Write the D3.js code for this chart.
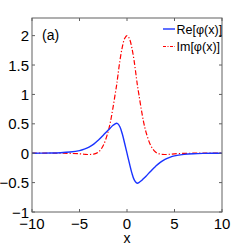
<!DOCTYPE html>
<html>
<head>
<meta charset="utf-8">
<script src="https://cdn.jsdelivr.net/npm/d3@7"></script>
<style>
  body { margin: 0; background: #fff; }
  text { font-family: Arial, "Liberation Sans", sans-serif; }
</style>
</head>
<body>
<svg width="245" height="245"></svg>
<script>
// values
var xs = [-10, -8, -7, -6, -5, -4.5, -4, -3.5, -3, -2.5, -2, -1.75, -1.5, -1.25, -1.1, -1, -0.75, -0.5, -0.25, 0,
          0.25, 0.5, 0.75, 1, 1.1, 1.25, 1.5, 1.75, 2, 2.5, 3, 3.5, 4, 4.5, 5, 6, 7, 8, 10];
var reVals = [0, 0.003, 0.008, 0.02, 0.045, 0.07, 0.105, 0.155, 0.225, 0.305, 0.39, 0.43, 0.47, 0.5, 0.51, 0.505, 0.45, 0.33, 0.17, 0,
              -0.17, -0.33, -0.45, -0.505, -0.51, -0.5, -0.47, -0.43, -0.39, -0.305, -0.225, -0.155, -0.105, -0.07, -0.045, -0.02, -0.008, -0.003, 0];
var imVals = [0, 0, 0, -0.003, -0.01, -0.018, -0.022, -0.015, 0.02, 0.13, 0.36, 0.53, 0.75, 1.0, 1.15, 1.27, 1.57, 1.8, 1.95, 2.0,
              1.95, 1.8, 1.57, 1.27, 1.15, 1.0, 0.75, 0.53, 0.36, 0.13, 0.02, -0.015, -0.022, -0.018, -0.01, -0.003, 0, 0, 0];
var xTicks = [-10, -5, 0, 5, 10];
var yTicks = [-1, -0.5, 0, 0.5, 1, 1.5, 2];
var seriesNames = ["Re[\u03c6(x)]", "Im[\u03c6(x)]"];

var svg = d3.select("svg");
var pLeft = 32, pRight = 222, pTop = 18, pBottom = 212;

var x = d3.scaleLinear().domain([-10, 10]).range([pLeft, pRight]);
var y = d3.scaleLinear().domain([-1, 2.3]).range([pBottom, pTop]);

var fmt = function (d) { return String(d).replace("-", "\u2212"); };
var axisColor = "#606060";

// curves
var line = d3.line()
    .x(function (d) { return x(d[0]); })
    .y(function (d) { return y(d[1]); })
    .curve(d3.curveCatmullRom);

svg.append("path")
    .attr("d", line(xs.map(function (v, i) { return [v, imVals[i]]; })))
    .attr("fill", "none")
    .attr("stroke", "#ff0000")
    .attr("stroke-width", 1.2)
    .attr("stroke-dasharray", "5,2,1.2,2");

svg.append("path")
    .attr("d", line(xs.map(function (v, i) { return [v, reVals[i]]; })))
    .attr("fill", "none")
    .attr("stroke", "#1a33ff")
    .attr("stroke-width", 1.4);

// box
svg.append("rect")
    .attr("x", pLeft).attr("y", pTop)
    .attr("width", pRight - pLeft).attr("height", pBottom - pTop)
    .attr("fill", "none")
    .attr("stroke", axisColor)
    .attr("stroke-width", 1);

// ticks inside, on all four sides
xTicks.forEach(function (t) {
    svg.append("line").attr("x1", x(t)).attr("x2", x(t)).attr("y1", pBottom).attr("y2", pBottom - 3).attr("stroke", axisColor);
    svg.append("line").attr("x1", x(t)).attr("x2", x(t)).attr("y1", pTop).attr("y2", pTop + 3).attr("stroke", axisColor);
    svg.append("text")
        .attr("x", x(t)).attr("y", 228.5)
        .attr("text-anchor", "middle")
        .style("font-size", "15px")
        .text(fmt(t));
});
yTicks.forEach(function (t) {
    svg.append("line").attr("x1", pLeft).attr("x2", pLeft + 3).attr("y1", y(t)).attr("y2", y(t)).attr("stroke", axisColor);
    svg.append("line").attr("x1", pRight).attr("x2", pRight - 3).attr("y1", y(t)).attr("y2", y(t)).attr("stroke", axisColor);
    svg.append("text")
        .attr("x", 29).attr("y", y(t) + 5.5)
        .attr("text-anchor", "end")
        .style("font-size", "15px")
        .text(fmt(t));
});

// x label
svg.append("text")
    .attr("x", x(0)).attr("y", 243)
    .attr("text-anchor", "middle")
    .style("font-size", "14px")
    .text("x");

// panel label
svg.append("text")
    .attr("x", 42).attr("y", 40)
    .style("font-size", "14px")
    .text("(a)");

// legend
var legendStyles = [
    { color: "#1a33ff", dash: null, w: 1.4 },
    { color: "#ff0000", dash: "3,1.5,1,1.5", w: 1.2 }
];
seriesNames.forEach(function (name, i) {
    var ly = 29 + i * 17.5;
    svg.append("line")
        .attr("x1", 163).attr("x2", 175)
        .attr("y1", ly).attr("y2", ly)
        .attr("stroke", legendStyles[i].color)
        .attr("stroke-width", legendStyles[i].w)
        .attr("stroke-dasharray", legendStyles[i].dash);
    svg.append("text")
        .attr("x", 176.5).attr("y", ly + 4.5)
        .style("font-size", "12.5px")
        .text(name);
});
</script>
</body>
</html>
